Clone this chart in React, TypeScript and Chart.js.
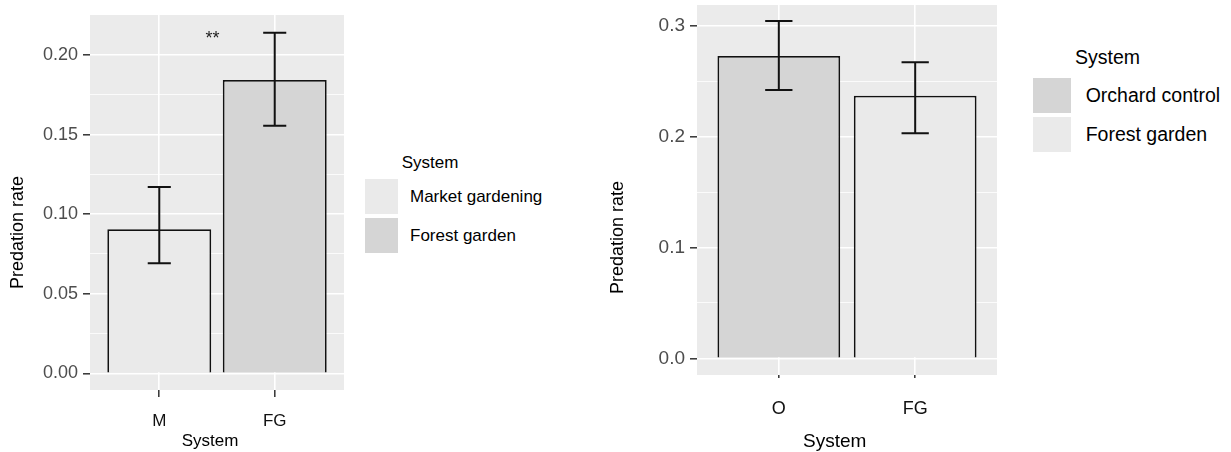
import React, { useEffect, useRef } from "react";
import { Chart, registerables } from "chart.js";

Chart.register(...registerables);

const FONT = "'Liberation Sans', Arial, Helvetica, sans-serif";

// ---------- Left panel data ----------
const leftCategories = ["M", "FG"];
const leftValues = [0.0905, 0.1843];
const leftLower = [0.0691, 0.1556];
const leftUpper = [0.1171, 0.214];
const leftFills = ["#EAEAEA", "#D5D5D5"];
const leftLegendLabels = ["Market gardening", "Forest garden"];
const leftMajorTicks = [0, 0.05, 0.1, 0.15, 0.2];
const leftMinorTicks = [0.025, 0.075, 0.125, 0.175];
const leftSignifText = "**";
const leftSignifPos = { x: 1.46, y: 0.2132 };

// ---------- Right panel data ----------
const rightCategories = ["O", "FG"];
const rightValues = [0.2727, 0.2369];
const rightLower = [0.242, 0.2029];
const rightUpper = [0.3042, 0.267];
const rightFills = ["#D5D5D5", "#EAEAEA"];
const rightLegendLabels = ["Orchard control", "Forest garden"];
const rightMajorTicks = [0, 0.1, 0.2, 0.3];
const rightMinorTicks = [0.05, 0.15, 0.25];

const legendTitle = "System";
const xTitle = "System";
const yTitle = "Predation rate";

type PanelCfg = {
  categories: string[];
  values: number[];
  lower: number[];
  upper: number[];
  fills: string[];
  major: number[];
  minor: number[];
  decimals: number;
  yMin: number;
  yMax: number;
  padRight: number;
  padTop: number;
  yAxisWidth: number;
  xAxisHeight: number;
  tickFont: number;
  xTickFont: number;
  xTitleFont: number;
  yTitleFont: number;
  xTickLength: number;
  xTickPad: number;
  yTickLength: number;
  yTickPad: number;
  xTitleAt: number;
  xTitleCapCenter: number;
  yTitleAt: number;
  yTitleCapCenter: number;
  signif?: { text: string; x: number; y: number; size: number };
};

function isMajor(v: number, major: number[]) {
  return major.some((m) => Math.abs(m - v) < 1e-9);
}

function buildChart(canvas: HTMLCanvasElement, c: PanelCfg) {
  const bgPlugin = {
    id: "panelBg",
    beforeDraw(chart: any) {
      const { ctx, chartArea } = chart;
      ctx.save();
      ctx.fillStyle = "#EBEBEB";
      ctx.fillRect(chartArea.left, chartArea.top, chartArea.right - chartArea.left, chartArea.bottom - chartArea.top);
      ctx.restore();
    },
  };
  const overlayPlugin = {
    id: "errBarsAndTitles",
    afterDatasetsDraw(chart: any) {
      const { ctx } = chart;
      const xs = chart.scales.x;
      const ys = chart.scales.y;
      ctx.save();
      ctx.strokeStyle = "#111111";
      ctx.lineWidth = 2;
      ctx.lineCap = "butt";
      c.categories.forEach((_, i) => {
        const xc = xs.getPixelForValue(i + 1);
        const half = (xs.getPixelForValue(i + 1.1) - xs.getPixelForValue(i + 0.9)) / 2;
        const yT = ys.getPixelForValue(c.upper[i]);
        const yB = ys.getPixelForValue(c.lower[i]);
        ctx.beginPath();
        ctx.moveTo(xc, yT);
        ctx.lineTo(xc, yB);
        ctx.moveTo(xc - half, yT);
        ctx.lineTo(xc + half, yT);
        ctx.moveTo(xc - half, yB);
        ctx.lineTo(xc + half, yB);
        ctx.stroke();
      });
      if (c.signif) {
        const s = c.signif;
        ctx.fillStyle = "#222222";
        ctx.font = `${s.size}px ${FONT}`;
        ctx.textAlign = "center";
        ctx.textBaseline = "alphabetic";
        const px = xs.getPixelForValue(s.x);
        const py = ys.getPixelForValue(s.y);
        ctx.fillText(s.text, px, py + s.size * 0.58);
      }
      ctx.fillStyle = "#000000";
      ctx.textAlign = "center";
      ctx.textBaseline = "alphabetic";
      ctx.font = `${c.xTitleFont}px ${FONT}`;
      ctx.fillText(xTitle, xs.getPixelForValue(c.xTitleAt), c.xTitleCapCenter + 0.358 * c.xTitleFont);
      ctx.font = `${c.yTitleFont}px ${FONT}`;
      ctx.translate(c.yTitleCapCenter, ys.getPixelForValue(c.yTitleAt));
      ctx.rotate(-Math.PI / 2);
      ctx.fillText(yTitle, 0, 0.358 * c.yTitleFont);
      ctx.restore();
    },
  };

  const allY = [...c.major, ...c.minor].sort((a, b) => a - b);

  return new Chart(canvas, {
    type: "bar",
    data: {
      datasets: [
        {
          data: c.categories.map((_, i) => ({ x: i + 1, y: c.values[i] })),
          backgroundColor: c.fills,
          borderColor: "#111111",
          borderWidth: 1.8,
          categoryPercentage: 0.9,
          barPercentage: 1,
          base: 0,
        } as any,
      ],
    },
    options: {
      animation: false,
      responsive: false,
      devicePixelRatio: 1,
      layout: { padding: { left: 0, right: c.padRight, top: c.padTop, bottom: 0 } },
      plugins: { legend: { display: false }, tooltip: { enabled: false } },
      scales: {
        x: {
          type: "linear",
          offset: false,
          min: 0.4,
          max: c.categories.length + 0.6,
          afterBuildTicks: (s: any) => {
            s.ticks = c.categories.map((_, i) => ({ value: i + 1 }));
          },
          afterFit: (s: any) => {
            s.height = c.xAxisHeight;
            s.paddingLeft = 0;
            s.paddingRight = 0;
          },
          ticks: {
            autoSkip: false,
            maxRotation: 0,
            padding: c.xTickPad,
            color: "#111111",
            font: { family: FONT, size: c.xTickFont },
            callback: (v: any) => c.categories[Math.round(Number(v)) - 1] ?? "",
          },
          grid: {
            offset: false,
            color: "#FFFFFF",
            lineWidth: 1.6,
            drawTicks: true,
            tickLength: c.xTickLength,
            tickColor: "#333333",
            tickWidth: 1.5,
          },
          border: { display: false },
          title: { display: false },
        },
        y: {
          type: "linear",
          min: c.yMin,
          max: c.yMax,
          afterBuildTicks: (s: any) => {
            s.ticks = allY.map((v) => ({ value: v }));
          },
          afterFit: (s: any) => {
            s.width = c.yAxisWidth;
            s.paddingTop = 0;
            s.paddingBottom = 0;
          },
          ticks: {
            autoSkip: false,
            padding: c.yTickPad,
            color: "#4D4D4D",
            font: { family: FONT, size: c.tickFont },
            callback: (v: any) => (isMajor(Number(v), c.major) ? Number(v).toFixed(c.decimals) : ""),
          },
          grid: {
            color: "#FFFFFF",
            lineWidth: (ctx: any) => (isMajor(ctx.tick?.value ?? 0, c.major) ? 1.6 : 0.8),
            drawTicks: true,
            tickLength: c.yTickLength,
            tickColor: (ctx: any) => (isMajor(ctx.tick?.value ?? 0, c.major) ? "#333333" : "rgba(0,0,0,0)"),
            tickWidth: 1.5,
          },
          border: { display: false },
          title: { display: false },
        },
      },
    } as any,
    plugins: [bgPlugin, overlayPlugin],
  });
}

const leftCfg: PanelCfg = {
  categories: leftCategories,
  values: leftValues,
  lower: leftLower,
  upper: leftUpper,
  fills: leftFills,
  major: leftMajorTicks,
  minor: leftMinorTicks,
  decimals: 2,
  yMin: -0.01049,
  yMax: 0.2251,
  padRight: 16,
  padTop: 15,
  yAxisWidth: 90,
  xAxisHeight: 62,
  tickFont: 18,
  xTickFont: 17,
  xTitleFont: 17,
  yTitleFont: 18,
  xTickLength: 7,
  xTickPad: 14,
  yTickLength: 7,
  yTickPad: 5,
  xTitleAt: 1.44,
  xTitleCapCenter: 440,
  yTitleAt: 0.0885,
  yTitleCapCenter: 16.7,
  signif: { text: leftSignifText, x: leftSignifPos.x, y: leftSignifPos.y, size: 18 },
};

const rightCfg: PanelCfg = {
  categories: rightCategories,
  values: rightValues,
  lower: rightLower,
  upper: rightUpper,
  fills: rightFills,
  major: rightMajorTicks,
  minor: rightMinorTicks,
  decimals: 1,
  yMin: -0.01506,
  yMax: 0.3187,
  padRight: 23,
  padTop: 5,
  yAxisWidth: 97,
  xAxisHeight: 77,
  tickFont: 19,
  xTickFont: 18,
  xTitleFont: 19,
  yTitleFont: 18,
  xTickLength: 3,
  xTickPad: 20,
  yTickLength: 7,
  yTickPad: 5,
  xTitleAt: 1.41,
  xTitleCapCenter: 440,
  yTitleAt: 0.1089,
  yTitleCapCenter: 16.7,
};

function Legend(props: {
  titleTop: number;
  titleLeft: number;
  keyLeft: number;
  keyW: number;
  keyTops: number[];
  keyH: number;
  labelLeft: number;
  fontSize: number;
  labels: string[];
  fills: string[];
}) {
  const f = props.fontSize;
  return (
    <>
      <div
        style={{
          position: "absolute",
          left: props.titleLeft,
          top: props.titleTop,
          fontSize: f,
          lineHeight: `${f}px`,
          whiteSpace: "nowrap",
          color: "#000",
        }}
      >
        {legendTitle}
      </div>
      {props.labels.map((lab, i) => (
        <React.Fragment key={lab + i}>
          <div
            style={{
              position: "absolute",
              left: props.keyLeft,
              top: props.keyTops[i],
              width: props.keyW,
              height: props.keyH,
              background: props.fills[i],
            }}
          />
          <div
            style={{
              position: "absolute",
              left: props.labelLeft,
              top: props.keyTops[i] + props.keyH / 2 - 0.49 * f,
              fontSize: f,
              lineHeight: `${f}px`,
              whiteSpace: "nowrap",
              color: "#000",
            }}
          >
            {lab}
          </div>
        </React.Fragment>
      ))}
    </>
  );
}

export default function App() {
  const leftRef = useRef<HTMLCanvasElement | null>(null);
  const rightRef = useRef<HTMLCanvasElement | null>(null);

  useEffect(() => {
    const charts: Chart[] = [];
    if (leftRef.current) charts.push(buildChart(leftRef.current, leftCfg));
    if (rightRef.current) charts.push(buildChart(rightRef.current, rightCfg));
    return () => charts.forEach((ch) => ch.destroy());
  }, []);

  return (
    <div
      style={{
        position: "absolute",
        left: 0,
        top: 0,
        width: 1231,
        height: 452,
        background: "#FFFFFF",
        fontFamily: FONT,
        overflow: "hidden",
      }}
    >
      <canvas ref={leftRef} width={360} height={452} style={{ position: "absolute", left: 0, top: 0, width: 360, height: 452 }} />
      <Legend
        titleLeft={401.7}
        titleTop={154.2}
        keyLeft={365}
        keyW={33}
        keyTops={[179.3, 218.3]}
        keyH={34.5}
        labelLeft={410}
        fontSize={17}
        labels={leftLegendLabels}
        fills={leftFills}
      />
      <canvas ref={rightRef} width={420} height={452} style={{ position: "absolute", left: 600, top: 0, width: 420, height: 452 }} />
      <Legend
        titleLeft={1075}
        titleTop={47.5}
        keyLeft={1032.7}
        keyW={38}
        keyTops={[78.3, 117.3]}
        keyH={34.6}
        labelLeft={1085.7}
        fontSize={19.5}
        labels={rightLegendLabels}
        fills={rightFills}
      />
    </div>
  );
}
